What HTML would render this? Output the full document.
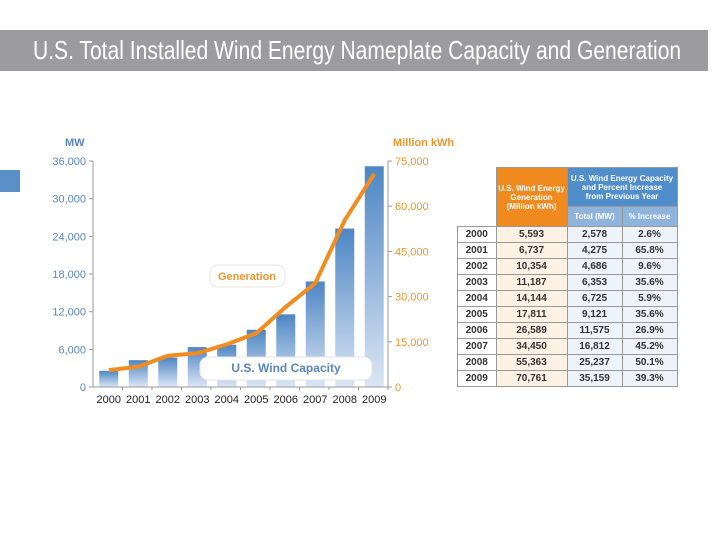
<!DOCTYPE html>
<html><head><meta charset="utf-8"><style>
body{margin:0;width:720px;height:540px;background:#fff;overflow:hidden;font-family:"Liberation Sans Narrow","Liberation Sans",sans-serif;}
#title{position:absolute;left:0;top:30px;width:708px;height:41px;background:#9c9c9e;color:#fff;font-size:26px;line-height:41px;white-space:nowrap;overflow:hidden;}
#title span{display:inline-block;transform-origin:0 50%;transform:scaleX(0.81);margin-left:33px;}
table{position:absolute;left:457px;top:167px;border-collapse:collapse;font-size:10px;font-weight:bold;color:#333;}
td{border:1px solid #999;text-align:center;height:15px;padding:0}
</style></head><body>
<div id="title"><span>U.S. Total Installed Wind Energy Nameplate Capacity and Generation</span></div>
<div style="position:absolute;left:0;top:170px;width:20px;height:22px;background:#5a8fc8"></div>
<svg id="chart" width="720" height="540" style="position:absolute;left:0;top:0">
<defs><linearGradient id="bg" x1="0" y1="0" x2="0" y2="1"><stop offset="0" stop-color="#4d86c4"/><stop offset="1" stop-color="#dbe6f4"/></linearGradient></defs>
</svg>
<table>
<tr><td style="border:none;width:38px"></td><td rowspan="2" style="background:#f08a1e;color:#fff;width:70px;height:58px;font-size:8px">U.S. Wind Energy<br>Generation<br>(Million kWh)</td><td colspan="2" style="background:#4f8ecb;color:#fff;height:38px;font-size:8px">U.S. Wind Energy Capacity<br>and Percent Increase<br>from Previous Year</td></tr>
<tr><td style="border:none"></td><td style="background:#8eb3dc;color:#fff;width:54px;height:19px;font-size:8px">Total (MW)</td><td style="background:#8eb3dc;color:#fff;width:54px;font-size:8px">% Increase</td></tr>
<tbody id="tb"></tbody>
</table>
<script>
const years=["2000","2001","2002","2003","2004","2005","2006","2007","2008","2009"];
const capacity=[2578,4275,4686,6353,6725,9121,11575,16812,25237,35159];
const generation=[5593,6737,10354,11187,14144,17811,26589,34450,55363,70761];
const pctInc=["2.6%","65.8%","9.6%","35.6%","5.9%","35.6%","26.9%","45.2%","50.1%","39.3%"];
const leftTicks=[0,6000,12000,18000,24000,30000,36000];
const rightTicks=[0,15000,30000,45000,60000,75000];
const NS="http://www.w3.org/2000/svg";
const svg=document.getElementById('chart');
const x0=93,x1=388,yb=387,yt=161;
const yL=v=>yb-(v/36000)*(yb-yt);
const yR=v=>yb-(v/75000)*(yb-yt);
const step=(x1-x0)/years.length;
const xc=i=>x0+step*(i+0.5)+1;
function mk(t,a,txt){const e=document.createElementNS(NS,t);for(const k in a)e.setAttribute(k,a[k]);if(txt!=null)e.textContent=txt;svg.appendChild(e);return e;}
const fmt=v=>v.toLocaleString('en-US');
capacity.forEach((v,i)=>{
 const r=mk('rect',{x:xc(i)-9.5,y:yL(v),width:19,height:yb-yL(v),fill:'url(#bg)'});
 
 
});
const la=mk('line',{x1:x0,y1:yt,x2:x0,y2:yb,stroke:'#999'});

const ra=mk('line',{x1:x1,y1:yt,x2:x1,y2:yb,stroke:'#999'});

mk('line',{x1:x0,y1:yb,x2:x1,y2:yb,stroke:'#999'});
leftTicks.forEach(v=>{mk('line',{x1:x0-4,y1:yL(v),x2:x0,y2:yL(v),stroke:'#999'});
 const t=mk('text',{x:x0-7,y:yL(v)+4,'text-anchor':'end','font-size':11,fill:'#5a86c0','font-family':'Liberation Sans Narrow, Liberation Sans, sans-serif'},fmt(v));
 });
rightTicks.forEach(v=>{mk('line',{x1:x1,y1:yR(v),x2:x1+4,y2:yR(v),stroke:'#999'});
 const t=mk('text',{x:x1+7,y:yR(v)+4,'font-size':11,fill:'#f0962e','font-family':'Liberation Sans Narrow, Liberation Sans, sans-serif'},fmt(v));
 });
years.forEach((y,i)=>{mk('line',{x1:x0+step*(i+1),y1:yb,x2:x0+step*(i+1),y2:yb+3,stroke:'#999'});
 const t=mk('text',{x:xc(i),y:yb+16,'text-anchor':'middle','font-size':11,fill:'#222','font-family':'Liberation Sans Narrow, Liberation Sans, sans-serif'},y);
 });
const ln=mk('polyline',{points:generation.map((v,i)=>xc(i)+','+yR(v)).join(' '),fill:'none',stroke:'#f28c1e','stroke-width':4,'stroke-linejoin':'round'});

const t1=mk('text',{x:65,y:146,'font-size':11,'font-weight':'bold',fill:'#5a86c0'},'MW');

const t2=mk('text',{x:393,y:146,'font-size':11,'font-weight':'bold',fill:'#f0962e'},'Million kWh');

const b1=mk('rect',{x:210,y:265,width:75,height:22,rx:8,fill:'#fff',stroke:'#e6e6e6'});

mk('text',{x:247,y:280,'text-anchor':'middle','font-size':11,'font-weight':'bold',fill:'#f0962e'},'Generation');
const b2=mk('rect',{x:200,y:357,width:172,height:23,rx:8,fill:'#fff',stroke:'#e6e6e6'});

mk('text',{x:286,y:372,'text-anchor':'middle','font-size':12,'font-weight':'bold',fill:'#5a86c0'},'U.S. Wind Capacity');
const tb=document.getElementById('tb');
years.forEach((y,i)=>{const tr=document.createElement('tr');
 
 
 tr.innerHTML='<td style="background:#fff">'+y+'</td><td style="background:#fdf1e4">'+fmt(generation[i])+'</td><td style="background:#eef3f9">'+fmt(capacity[i])+'</td><td style="background:#eef3f9">'+pctInc[i]+'</td>';
 tb.appendChild(tr);});
</script>
</body></html>
